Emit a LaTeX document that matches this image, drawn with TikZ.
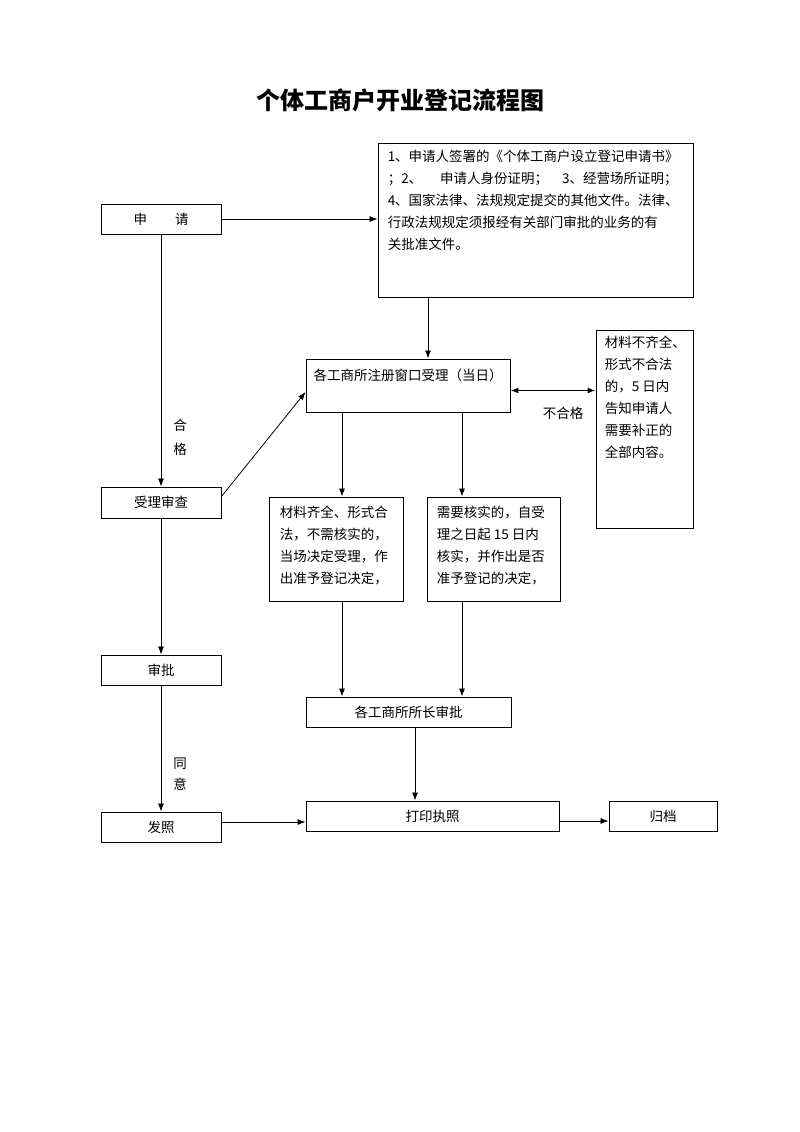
\documentclass[tikz,border=0pt]{standalone}
\usepackage{fontspec}
\setmainfont{Noto Sans CJK SC}
\usetikzlibrary{shapes,arrows.meta}

\begin{document}
\begin{tikzpicture}[x=1pt,y=-1pt,>={Latex[length=8pt,width=6pt]},font=\fontsize{13.5}{22}\selectfont]
\tikzstyle{box}=[draw,rectangle,line width=0.9pt,inner sep=0,minimum height=30]
\tikzstyle{txt}=[inner sep=0,align=left,anchor=north west]
\tikzstyle{flow}=[->,line width=0.8pt]
\useasboundingbox (0,0) rectangle (800,1132);

\node[font=\fontsize{24}{28}\selectfont\bfseries] (title) at (400,100) {个体工商户开业登记流程图};

% left column
\node[box,minimum width=120] (shenqing) at (161,219) {申\hspace{28pt}请};
\node[box,minimum width=120,minimum height=31] (shencha) at (161,502.5) {受理审查};
\node[box,minimum width=120] (shenpi) at (161,670) {审批};
\node[box,minimum width=120] (fazhao) at (161,827) {发照};

% documents and window
\node[box,minimum width=315,minimum height=154] (docs) at (535.5,220) {};
\node[txt] (docstext) at ([xshift=10,yshift=-7]docs.north west) {1、申请人签署的《个体工商户设立登记申请书》\\
；2、\hspace{18pt}申请人身份证明；\hspace{14pt}3、经营场所证明；\\
4、国家法律、法规规定提交的其他文件。法律、\\
行政法规规定须报经有关部门审批的业务的有\\
关批准文件。};
\node[box,minimum width=204,minimum height=53] (shouli) at (408,385.5) {};
\node[inner sep=0] (shoulitext) at ([yshift=-17]shouli.north) {各工商所注册窗口受理（当日）};
\node[box,minimum width=97,minimum height=198] (buhege) at (644.5,429) {};
\node[txt] (buhegetext) at ([xshift=9,yshift=-6]buhege.north west) {材料不齐全、\\形式不合法\\的，5 日内\\告知申请人\\需要补正的\\全部内容。};

% two cases
\node[box,minimum width=134,minimum height=104] (caseA) at (336,549) {};
\node[txt] (caseAtext) at ([xshift=11,yshift=-9]caseA.north west) {材料齐全、形式合\\法，不需核实的，\\当场决定受理，作\\出准予登记决定，};
\node[box,minimum width=133,minimum height=104] (caseB) at (493.5,549) {};
\node[txt] (caseBtext) at ([xshift=10,yshift=-9]caseB.north west) {需要核实的，自受\\理之日起 15 日内\\核实，并作出是否\\准予登记的决定，};

\node[box,minimum width=205] (suozhang) at (408.5,712) {各工商所所长审批};
\node[box,minimum width=253] (dayin) at (432.5,816) {打印执照};
\node[box,minimum width=108] (guidang) at (663,816) {归档};

% labels
\node[align=center,inner sep=0] (hege) at (180,437) {合\\[2pt]格};
\node[inner sep=0] (buhegelabel) at (563,413) {不合格};
\node[align=center,inner sep=0] (tongyi) at (180,774.5) {同\\[-1pt]意};

% connectors
\draw[flow] (shenqing.east) -- (shenqing.east -| docs.west);
\draw[flow] ([xshift=20]shouli.north |- docs.south) -- ([xshift=20]shouli.north);
\draw[<->,line width=1.3pt] ([yshift=-5]shouli.east) -- ([yshift=-5]shouli.east -| buhege.west);
\foreach \a/\b in {shenqing/shencha,shencha/shenpi,shenpi/fazhao}{
\draw[flow] (\a) -- (\b);
}
\draw[flow] ([yshift=6]shencha.east) -- ([yshift=-6.5]shouli.west);
\foreach \c/\s in {caseA/6,caseB/-31.5}{
\draw[flow] ([xshift=\s]\c.north |- shouli.south) -- ([xshift=\s]\c.north);
\draw[flow] ([xshift=\s]\c.south) -- ([xshift=\s]\c.south |- suozhang.north);
}
\draw[flow] ([xshift=6.5]suozhang.south) -- ([xshift=6.5]suozhang.south |- dayin.north);
\draw[flow] ([yshift=5]fazhao.east) -- ([yshift=5]fazhao.east -| dayin.west);
\draw[flow] ([yshift=-5]dayin.east) -- ([yshift=-5]dayin.east -| guidang.west);
\end{tikzpicture}
\end{document}
